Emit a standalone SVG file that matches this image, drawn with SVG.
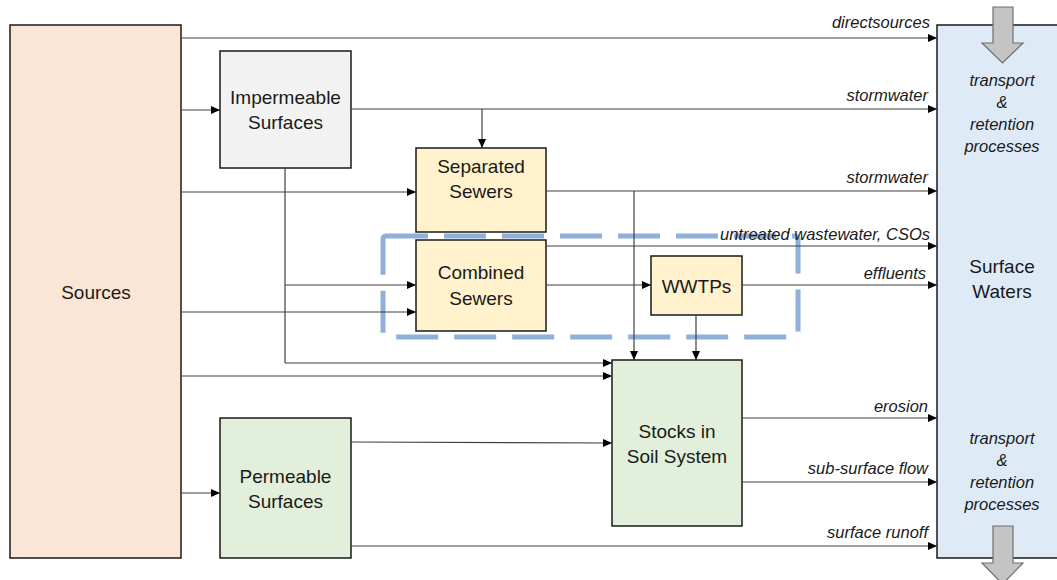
<svg xmlns="http://www.w3.org/2000/svg" width="1057" height="580" viewBox="0 0 1057 580">
<defs>
<marker id="ah" markerUnits="userSpaceOnUse" markerWidth="9" markerHeight="8" refX="9" refY="4" orient="auto">
<path d="M0,0 L9,4 L0,8 z" fill="#000"/>
</marker>
<style>
.box{stroke:#1a1a1a;stroke-width:1.5}
.t{font-family:"Liberation Sans",Arial,sans-serif;font-size:19px;fill:#1a1a1a;text-anchor:middle}
.lbl{font-family:"Liberation Sans",Arial,sans-serif;font-size:16.5px;font-style:italic;fill:#1a1a1a;text-anchor:end}
.it{font-family:"Liberation Sans",Arial,sans-serif;font-size:16.5px;font-style:italic;fill:#1a1a1a;text-anchor:middle}
.c{fill:none;stroke:#404040;stroke-width:1.2}
.ca{fill:none;stroke:#404040;stroke-width:1.2;marker-end:url(#ah)}
.blk{fill:#c4c4c4;stroke:#6f6f6f;stroke-width:1.2}
</style>
</defs>
<rect width="1057" height="580" fill="#fff"/>

<g id="surface-waters">
<rect class="box" x="937" y="25" width="130" height="533" fill="#deebf7"/>
<polygon class="blk" points="993,7 1013,7 1013,43 1023,43 1002.5,63 982,43 993,43"/>
<polygon class="blk" points="993,526 1013,526 1013,563 1023,563 1002.5,584 982,563 993,563"/>
<text class="it" x="1002" y="86">transport</text>
<text class="it" x="1002" y="108">&amp;</text>
<text class="it" x="1002" y="130">retention</text>
<text class="it" x="1002" y="152">processes</text>
<text class="t" x="1002" y="273">Surface</text>
<text class="t" x="1002" y="298">Waters</text>
<text class="it" x="1002" y="444">transport</text>
<text class="it" x="1002" y="466">&amp;</text>
<text class="it" x="1002" y="488">retention</text>
<text class="it" x="1002" y="510">processes</text>
</g>

<g id="sources">
<rect class="box" x="10" y="25" width="171" height="533" fill="#fbe5d6"/>
<text class="t" x="96" y="299">Sources</text>
</g>

<g id="impermeable">
<rect class="box" x="220" y="51" width="131" height="117" fill="#f2f2f2"/>
<text class="t" x="285.5" y="104">Impermeable</text>
<text class="t" x="285.5" y="129">Surfaces</text>
</g>

<g id="separated-sewers">
<rect class="box" x="416" y="148" width="130" height="84" fill="#fff2cc"/>
<text class="t" x="481" y="173">Separated</text>
<text class="t" x="481" y="198">Sewers</text>
</g>

<g id="combined-sewers">
<rect class="box" x="416" y="240" width="130" height="91" fill="#fff2cc"/>
<text class="t" x="481" y="279">Combined</text>
<text class="t" x="481" y="305">Sewers</text>
</g>

<g id="wwtps">
<rect class="box" x="651" y="256" width="91" height="59" fill="#fff2cc"/>
<text class="t" x="696.5" y="293">WWTPs</text>
</g>

<g id="stocks">
<rect class="box" x="612" y="360" width="130" height="166" fill="#e2efda"/>
<text class="t" x="677" y="438">Stocks in</text>
<text class="t" x="677" y="463">Soil System</text>
</g>

<g id="permeable">
<rect class="box" x="220" y="418" width="131" height="140" fill="#e2efda"/>
<text class="t" x="285.5" y="483">Permeable</text>
<text class="t" x="285.5" y="508">Surfaces</text>
</g>

<g id="combined-system-boundary">
<rect x="383" y="236" width="415" height="101" rx="3" fill="none" stroke="#8fb0d8" stroke-width="5" stroke-dasharray="42 16"/>
</g>

<g id="connectors">
<path class="ca" d="M181,38 H937"/>
<path class="ca" d="M181,110 H220"/>
<path class="ca" d="M351,109 H937"/>
<path class="ca" d="M482,109 V148"/>
<path class="ca" d="M181,192 H416"/>
<path class="ca" d="M546,191 H937"/>
<path class="ca" d="M634,191 V360"/>
<path class="ca" d="M546,246 H937"/>
<path class="ca" d="M546,285 H651"/>
<path class="ca" d="M742,285 H937"/>
<path class="ca" d="M696,315 V360"/>
<path class="c" d="M285,168 V363"/>
<path class="ca" d="M285,363 H612"/>
<path class="ca" d="M285,285 H416"/>
<path class="ca" d="M181,312 H416"/>
<path class="ca" d="M181,376 H612"/>
<path class="ca" d="M351,442 L612,443"/>
<path class="ca" d="M181,493 H220"/>
<path class="ca" d="M351,546 H937"/>
<path class="ca" d="M742,418 H937"/>
<path class="ca" d="M742,482 H937"/>
<text class="lbl" x="930" y="28">directsources</text>
<text class="lbl" x="928" y="101">stormwater</text>
<text class="lbl" x="928" y="183">stormwater</text>
<text class="lbl" x="930" y="240">untreated wastewater, CSOs</text>
<text class="lbl" x="926" y="279">effluents</text>
<text class="lbl" x="928" y="412">erosion</text>
<text class="lbl" x="928" y="474">sub-surface flow</text>
<text class="lbl" x="928" y="538">surface runoff</text>
</g>
</svg>
